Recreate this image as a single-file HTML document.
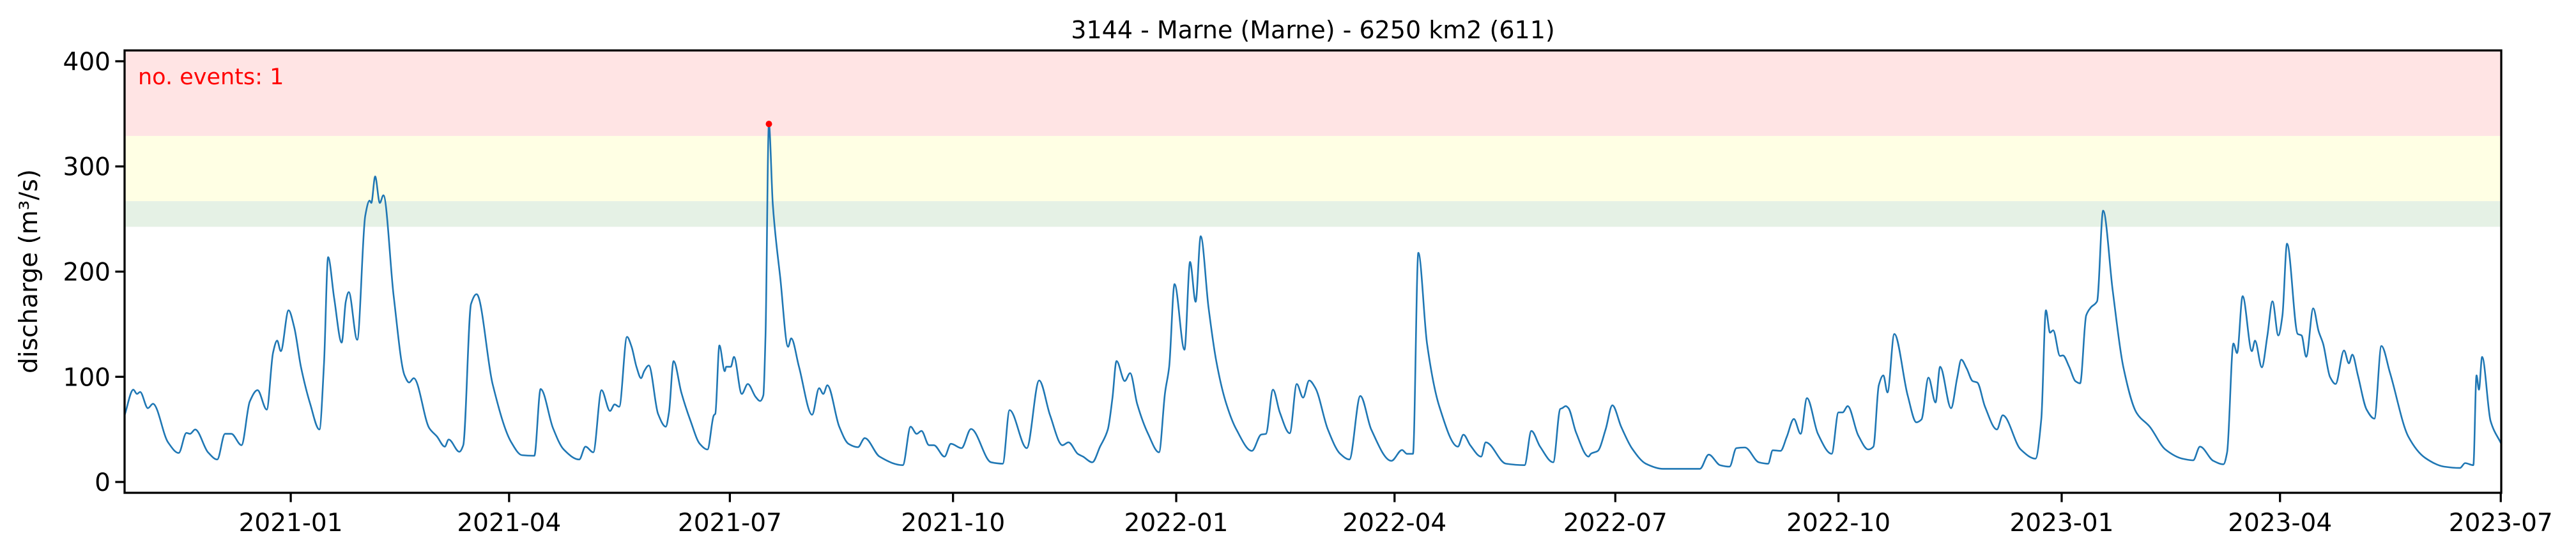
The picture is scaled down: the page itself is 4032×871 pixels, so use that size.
<!DOCTYPE html>
<html><head><meta charset="utf-8">
<style>
html,body{margin:0;padding:0;background:#fff;}
svg{display:block;font-family:"DejaVu Sans","Liberation Sans",sans-serif;}
</style></head>
<body>
<svg id="chart" width="4032" height="871" viewBox="0 0 4032 871" xmlns="http://www.w3.org/2000/svg">
<rect x="0" y="0" width="4032" height="871" fill="#fff"/>
<text x="2055" y="60" text-anchor="middle" font-size="38" fill="#000">3144 - Marne (Marne) - 6250 km2 (611)</text>
<g id="bands"></g>
<g id="series"></g>
<g id="axes"></g>
<text x="216" y="132" font-size="35" fill="#ff0000">no. events: 1</text>
<text transform="translate(58,425) rotate(-90)" text-anchor="middle" font-size="39" fill="#000">discharge (m³/s)</text>
</svg>
<script>
// ---- data (x = days since 2021-01-01) ----
const dayOffsets = [-68.5,-64.9,-63.4,-62.1,-58.9,-56.8,-50.6,-46.2,-43,-41.5,-39.4,-34.1,-30.3,-27.1,-24.5,-20.3,-16.9,-13.7,-9.9,-7.3,-5.6,-4.1,-0.9,1.4,4.2,8,11.8,13.7,15.4,17.9,21,22.7,23.9,27.4,30.7,32.5,33.2,34.8,36.7,38.2,42.4,46.9,48.8,50.7,57.1,60.3,63.5,65.1,69.5,71.1,74.3,76.6,83.2,90.9,95.3,100.4,103,108.1,112.5,118.9,121.5,124.7,128.1,
131.6,133.5,135.4,138.6,140.5,142.5,144.4,145.7,147.6,151.4,154.6,155.9,157.8,161,164.8,168.6,171.8,174.4,175,176.7,178.9,179.5,181.4,182.7,185.9,188.4,191.6,193.5,194.8,195.7,197.1,198.7,201.8,205,206.3,209.5,214.9,217.8,219.5,221.2,226.1,229.9,233.8,236.6,242.7,252.3,255.5,258,260,263.1,265.1,269.5,272.1,276.5,280.4,288.7,293.5,296.3,303.4,308.5,313,318.1,320.6,324.4,
326.6,330.4,333.6,336.8,338.7,340.4,343.8,346,348.9,353.4,357.9,360.4,362.1,364.3,368.4,370.7,373,375.1,378.3,381.5,385.3,389.8,396.2,400,402,404.9,407.7,411.8,414.7,417.3,419.8,422.4,427.5,432.6,436.4,440.9,445.4,453.7,458.1,460.1,462.6,464.8,468.4,473.5,481.1,483.4,486.2,490.7,492.6,500.9,508.6,511.4,515,520.4,523.3,
524.1,525.6,526.7,529.8,535,535.9,538.8,542,544.8,548.4,552.8,558.6,565.6,580.9,584.5,589.2,593.1,595.9,599.4,605.2,609,610.9,614.1,616.7,619.6,622.4,625,629.5,635.2,638,639.7,641.8,646.1,650.3,652.4,654.6,656.5,658.2,661,666.5,670.1,672.2,675.1,678,679.9,684.4,686.9,688.6,690.8,693.3,695.2,698.4,703.3,705.7,713.1,719.2,
721.6,723.5,725.2,726.5,729.3,730.5,733.1,735.6,737.6,740.1,742,744.6,747.1,751,755.4,760.9,766.3,772.7,779.7,784.2,787,792.5,796.7,798.2,800.8,802.3,804.6,808.4,809.7,812.5,814.8,816.9,819.3,821,822.9,827.3,828.9,830.8,833.7,835.9,837.8,840.6,842.9,846.4,848.4,849.8,852.1,855.7,858.9,861.8,865.3,872.9,879.9,887.6,894.2,896.3,899.7,901,902,903.3,906.8,911.2];
const discharge = [63.4,87.8,83.7,85.6,70.2,74.3,37.7,27.6,46.6,45.8,49.9,28.2,21.4,45.8,45.8,35,76.4,87.3,68.8,123,134.4,124.4,163.2,147.4,109.5,74.3,49.9,112.2,213.8,174.5,132.5,171.8,180.5,135.2,253.1,267.5,265.3,290.5,265.3,272.6,177.2,101.4,94.6,98.7,51.2,43.1,33.6,40.4,28.7,35,169.1,178.6,93.2,37.7,25.5,24.9,88.4,51.2,30.9,21.4,33.6,28.2,87.3,
67.5,73.7,71.5,138,128.5,109.5,98.7,105.4,110.8,64.8,52.6,66.1,114.9,85.1,58,36.3,30.9,63.4,64.8,129.8,105.4,109.5,109.5,119,83.7,93.2,81,77,82.4,139.3,340.4,264,193.5,128.5,136.6,109.5,63.9,89.2,83.7,91.9,52.6,36.3,33.1,41.7,24.1,16,52.6,45.8,48.5,35,35,24.1,36.3,32.2,50.4,18.7,17.4,68.3,32.2,96.5,63.4,35,37.7,26.8,
24.1,18.7,33.6,49.9,79.7,115,96,103.5,74.3,45.8,28.2,85.1,109.5,188.1,125.8,209.2,171.3,233.6,166.4,115,77,49.9,29.6,45,45.8,87.8,66.1,46.3,93.2,80.2,96.5,89.2,49.9,26.8,21.4,81.8,49.9,20.1,30.4,26.8,26.8,217.9,131.2,71.5,33.6,45,35,24.1,37.7,17.4,16,48.5,33.6,18.7,69.4,
70.2,72.1,70.2,47.2,24.1,26.8,29.6,49.9,72.9,52.6,32.2,17.4,12.5,12.5,26,16,14.6,32.2,32.8,18.7,17.4,30.1,29.6,43.1,59.9,45.8,79.7,45.8,26.8,66.1,66.1,72.1,44.5,30.9,33.6,91.9,101.4,85.1,140.7,82.4,56.7,59.4,99.2,75.6,109.5,70.2,98.7,116.3,108.1,95.9,94.6,71.5,49.9,63.4,30.9,22.2,
60,163.2,142,144.2,119.8,120.3,109.5,96,93.8,158.3,165.9,171.8,258,182.7,109.5,65.6,52.6,31,22.2,20.6,33.6,20.1,16.8,28.2,131.7,122.5,176.7,124.4,134.4,109,139.3,171.8,139.3,158.3,226.6,140.7,139.3,119,165.1,143.4,131.2,100,93.2,125,112.8,121.1,101.4,68.8,60.2,129.3,104.1,43.1,22.8,14.6,13.3,17.9,16,101.4,87.8,119,58,36.3];
const eventDays = [197.1];
const eventValues = [340.4];
const bandLower = [329, 267, 242.6];
const bandUpper = [410.3, 329, 267];
const bandColors = ['#ffe4e4','#ffffe4','#e5f1e5'];
const bandNames = ['band-severe','band-high','band-moderate'];
const yTicks = [0,100,200,300,400];
const xTickDays = [0,90,181,273,365,455,546,638,730,820,911];
const xTickLabels = ['2021-01','2021-04','2021-07','2021-10','2022-01','2022-04','2022-07','2022-10','2023-01','2023-04','2023-07'];

// ---- scales ----
const L=195,R=3915,T=79,B=772;
const X0=-68.5,X1=911.2,Y0=-10.3,Y1=410.3;
const xs=d=>L+(d-X0)/(X1-X0)*(R-L);
const ys=v=>B-(v-Y0)/(Y1-Y0)*(B-T);
const NS='http://www.w3.org/2000/svg';
function mk(tag,attrs,parent){const e=document.createElementNS(NS,tag);for(const k in attrs)e.setAttribute(k,attrs[k]);parent.appendChild(e);return e;}

const gb=document.getElementById('bands');
bandLower.forEach((lo,i)=>{
  const r=mk('rect',{x:L,y:ys(bandUpper[i]),width:R-L,height:ys(lo)-ys(bandUpper[i]),fill:bandColors[i]},gb);
  
  
});

// monotone cubic path through the data points
function monotonePath(px,py){
  const n=px.length, dx=[], m=[], t=new Array(n);
  for(let i=0;i<n-1;i++){dx[i]=px[i+1]-px[i]; m[i]=(py[i+1]-py[i])/dx[i];}
  t[0]=m[0]; t[n-1]=m[n-2];
  for(let i=1;i<n-1;i++){
    if(m[i-1]*m[i]<=0) t[i]=0;
    else { const w1=2*dx[i]+dx[i-1], w2=dx[i]+2*dx[i-1]; t[i]=(w1+w2)/(w1/m[i-1]+w2/m[i]); }
  }
  let d='M'+px[0].toFixed(1)+','+py[0].toFixed(1);
  for(let i=0;i<n-1;i++){
    const h=dx[i]/3;
    d+=' C'+(px[i]+h).toFixed(1)+','+(py[i]+t[i]*h).toFixed(1)+' '+(px[i+1]-h).toFixed(1)+','+(py[i+1]-t[i+1]*h).toFixed(1)+' '+px[i+1].toFixed(1)+','+py[i+1].toFixed(1);
  }
  return d;
}

const gs=document.getElementById('series');
const pxs=dayOffsets.map(xs), pys=discharge.map(ys);
const pl=mk('path',{d:monotonePath(pxs,pys),fill:'none',stroke:'#1f77b4','stroke-width':2.6,'stroke-linejoin':'round'},gs);


eventDays.forEach((d,i)=>{
  const c=mk('circle',{cx:xs(d),cy:ys(eventValues[i]),r:5,fill:'#ff0000'},gs);
  
  
});

const ga=document.getElementById('axes');
const frame=mk('rect',{x:L,y:T,width:R-L,height:B-T,fill:'none',stroke:'#000','stroke-width':3.3},ga);


yTicks.forEach(v=>{
  const y=ys(v);
  const tk=mk('line',{x1:L-14.6,x2:L,y1:y,y2:y,stroke:'#000','stroke-width':3.3},ga);
  
  
  const t=mk('text',{x:L-22,y:y+14,'text-anchor':'end','font-size':39,fill:'#000'},ga);
  t.textContent=v;
  
  
});
xTickDays.forEach((d,i)=>{
  const x=xs(d);
  const tk=mk('line',{x1:x,x2:x,y1:B,y2:B+14.6,stroke:'#000','stroke-width':3.3},ga);
  
  
  const t=mk('text',{x:x,y:B+60,'text-anchor':'middle','font-size':39,fill:'#000'},ga);
  t.textContent=xTickLabels[i];
  
  
});
</script>
</body></html>
